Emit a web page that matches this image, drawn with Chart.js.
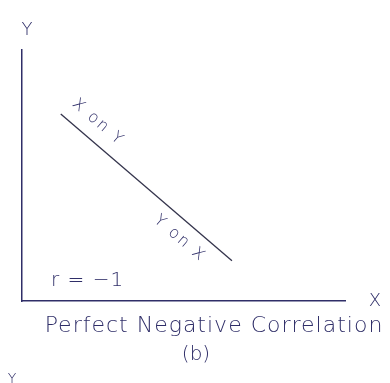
<!DOCTYPE html>
<html>
<head>
<meta charset="utf-8">
<script src="https://cdn.jsdelivr.net/npm/chart.js@4.4.1/dist/chart.umd.min.js"></script>
<style>
  html, body { margin: 0; padding: 0; background: #fff; }
  #wrap { width: 390px; height: 383px; }
</style>
</head>
<body>
<div id="wrap"><canvas id="myChart"></canvas></div>
<script>
// regression line for r = -1 (both lines coincide)
const xValues = [1.2, 6.5];
const yValues = [7.45, 1.6];
const axisNames = ["X", "Y"];
const lineLabels = ["X on Y", "Y on X"];
const rText = "r = \u22121";
const caption = "Perfect Negative Correlation";
const subCaption = "(b)";

const ink = "#2f2e68";
const hand = "'DejaVu Sans', sans-serif";

const area = document.querySelector("#myChart");

const notes = {
  id: "notes",
  afterDraw(chart) {
    const { ctx, chartArea: a, scales } = chart;
    const x = scales.x, y = scales.y;
    ctx.save();
    ctx.fillStyle = ink;
    ctx.textAlign = "center";
    ctx.textBaseline = "middle";

    // axis names
    ctx.font = `300 18px ${hand}`;
    ctx.fillText(axisNames[1], a.left + 5, a.top - 20);
    ctx.fillText(axisNames[0], a.right + 30, a.bottom);
    ctx.font = `200 14px ${hand}`;
    ctx.fillText(axisNames[1], 12, 379);

    // labels along the line
    const x0 = x.getPixelForValue(xValues[0]), y0 = y.getPixelForValue(yValues[0]);
    const x1 = x.getPixelForValue(xValues[1]), y1 = y.getPixelForValue(yValues[1]);
    const ang = Math.atan2(y1 - y0, x1 - x0);
    ctx.font = `300 16px ${hand}`;
    ctx.letterSpacing = "2px";
    [[0.15, -18], [0.76, 17]].forEach(([t, off], i) => {
      const px = x0 + (x1 - x0) * t - Math.sin(ang) * off;
      const py = y0 + (y1 - y0) * t + Math.cos(ang) * off;
      ctx.save();
      ctx.translate(px, py);
      ctx.rotate(ang);
      ctx.fillText(lineLabels[i], 0, 0);
      ctx.restore();
    });

    // coefficient
    ctx.font = `300 20px ${hand}`;
    ctx.letterSpacing = "1px";
    ctx.textAlign = "left";
    ctx.fillText(rText, a.left + 29, a.bottom - 20);

    // caption
    ctx.textAlign = "center";
    ctx.font = `200 22px ${hand}`;
    ctx.fillText(caption, 214, a.bottom + 25);
    ctx.letterSpacing = "0px";
    ctx.font = `200 20px ${hand}`;
    ctx.fillText(subCaption, 196, a.bottom + 54);
    ctx.restore();
  },
};

const myChart = new Chart(area, {
  type: "scatter",
  data: {
    datasets: [
      {
        data: xValues.map((v, i) => ({ x: v, y: yValues[i] })),
        showLine: true,
        borderColor: "#34344c",
        borderWidth: 1.3,
        pointRadius: 0,
      },
    ],
  },
  options: {
    responsive: true,
    maintainAspectRatio: false,
    animation: false,
    layout: {
      padding: { left: 22, top: 50, right: 45, bottom: 82 },
    },
    scales: {
      x: {
        min: 0,
        max: 10,
        ticks: { display: false },
        grid: { display: false, drawTicks: false },
        border: { display: true, color: ink, width: 1.5 },
      },
      y: {
        min: 0,
        max: 10,
        ticks: { display: false },
        grid: { display: false, drawTicks: false },
        border: { display: true, color: ink, width: 1.5 },
      },
    },
    plugins: {
      legend: { display: false },
      tooltip: { enabled: false },
    },
  },
  plugins: [notes],
});
</script>
</body>
</html>
